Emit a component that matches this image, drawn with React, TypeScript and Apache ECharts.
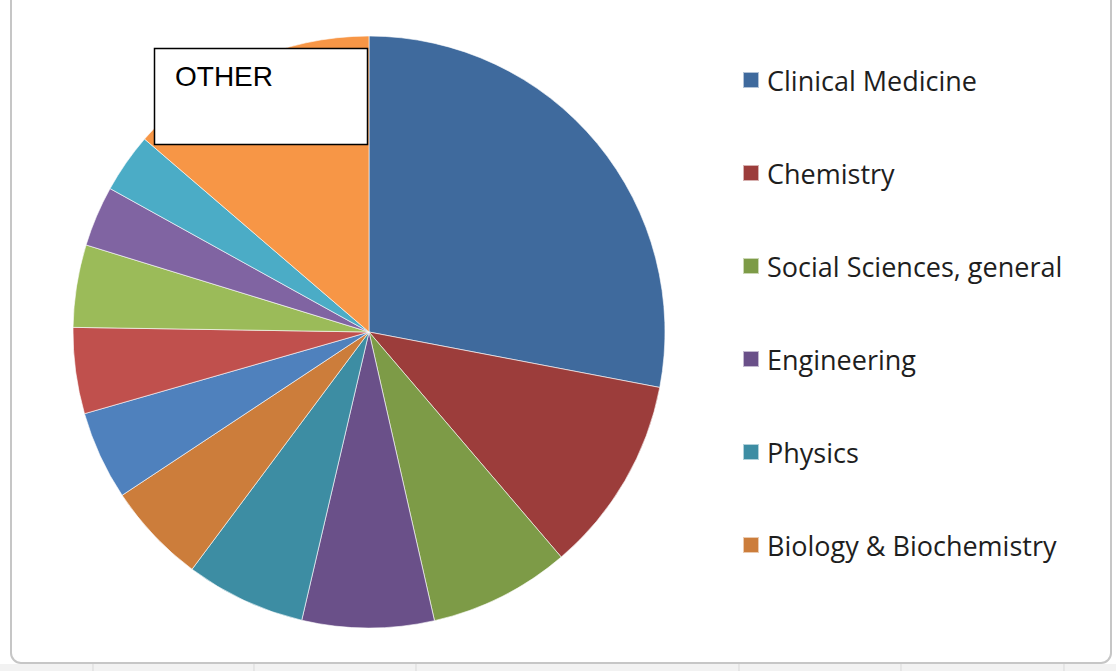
import React, { useEffect, useRef } from "react";
import * as echarts from "echarts";

const categories = [
  "Clinical Medicine",
  "Chemistry",
  "Social Sciences, general",
  "Engineering",
  "Physics",
  "Biology & Biochemistry",
  "Field 7",
  "Field 8",
  "Field 9",
  "Field 10",
  "Field 11",
  "OTHER",
];
const values = [28.0, 10.75, 7.7, 7.2, 6.55, 5.5, 4.85, 4.7, 4.5, 3.3, 3.25, 13.7];
const legendNames = categories.slice(0, 6);
const colors = [
  "#3F6A9D", "#9C3D3B", "#7D9B47", "#6A5089", "#3D8DA3", "#CC7D3B",
  "#4F81BD", "#C0504D", "#9BBB59", "#8064A2", "#4BACC6", "#F79646",
];
const gridXs = [93, 254, 416, 739, 901, 1064];

export default function App() {
  const ref = useRef<HTMLDivElement>(null);
  useEffect(() => {
    document.body.style.margin = "0";
    const chart = echarts.init(ref.current!, undefined, { renderer: "svg" });
    const graphics: any[] = [
      { type: "rect", silent: true, shape: { x: 0, y: 664, width: 1116, height: 7 }, style: { fill: "#f2f2f2" }, z: 0 },
      ...gridXs.map((x) => ({
        type: "line", silent: true, shape: { x1: x, y1: 664, x2: x, y2: 671 }, style: { stroke: "#d9d9d9", lineWidth: 1 },
      })),
      { type: "rect", silent: true, shape: { x: 11, y: -20, width: 1100, height: 683, r: 10 }, style: { fill: "none", stroke: "#c6c6c6", lineWidth: 2 }, z: 1 },
      { type: "rect", shape: { x: 154.5, y: 48.5, width: 213, height: 96 }, style: { fill: "#ffffff", stroke: "#000000", lineWidth: 1.5 }, z: 10 },
      { type: "text", x: 175, y: 62, style: { text: "OTHER", fill: "#000000", font: "28px 'Liberation Sans', Arial, sans-serif" }, z: 11 },
    ];
    chart.setOption({
      animation: false,
      color: colors,
      backgroundColor: "#ffffff",
      legend: {
        orient: "vertical",
        left: 737,
        top: 60,
        data: legendNames,
        icon: "rect",
        itemWidth: 16,
        itemHeight: 16,
        itemGap: 63,
        selectedMode: false,
        textStyle: { fontFamily: "'Open Sans', sans-serif", fontSize: 27, color: "#1e1e1e", lineHeight: 30, padding: [0, 0, 0, 3] },
      },
      series: [
        {
          type: "pie",
          center: [369, 332],
          radius: 296,
          startAngle: 90,
          clockwise: true,
          label: { show: false },
          labelLine: { show: false },
          itemStyle: { borderColor: "rgba(255,255,255,0.6)", borderWidth: 1 },
          emphasis: { disabled: true },
          data: categories.map((name, i) => ({ name, value: values[i] })),
        },
      ],
      graphic: graphics,
    });
    return () => chart.dispose();
  }, []);
  return <div ref={ref} style={{ width: 1116, height: 671 }} />;
}
